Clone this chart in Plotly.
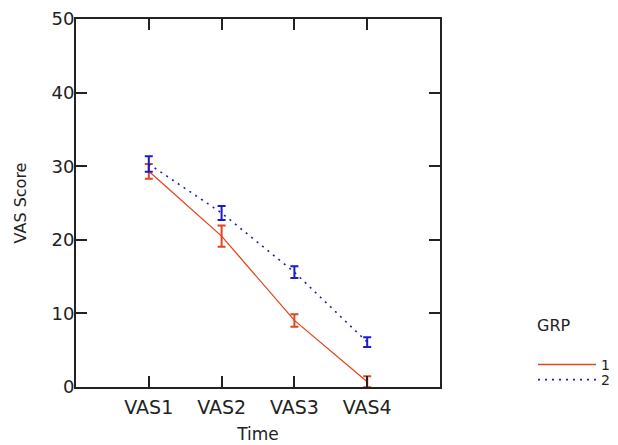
import plotly.graph_objects as go

categories = ["VAS1", "VAS2", "VAS3", "VAS4"]
x_pos = [1, 2, 3, 4]
grp1_mean = [29.3, 20.5, 9.05, 0.7]
grp1_err = [1.0, 1.45, 0.85, 0.75]
grp2_mean = [30.3, 23.65, 15.6, 6.1]
grp2_err = [1.05, 0.95, 0.8, 0.65]
y_ticks = [0, 10, 20, 30, 40, 50]

RED = "#E2461C"
BLUE = "#1A1AD0"
FONT = "DejaVu Sans"
INK = "#222222"

fig = go.Figure()
fig.add_trace(go.Scatter(
    x=x_pos, y=grp1_mean, mode="lines", name="1", legend="legend",
    line=dict(color=RED, width=1.3),
    error_y=dict(type="data", array=grp1_err, color=RED, thickness=2, width=4),
))
fig.add_trace(go.Scatter(
    x=x_pos, y=grp2_mean, mode="lines", name="2", legend="legend2",
    line=dict(color=BLUE, width=1.6, dash="2px,5px"),
    error_y=dict(type="data", array=grp2_err, color=BLUE, thickness=2, width=4),
))

axis_common = dict(
    showline=True, linecolor=INK, linewidth=2, mirror="ticks",
    ticks="inside", ticklen=11, tickwidth=2, tickcolor=INK,
    showgrid=False, zeroline=False, automargin=False,
    ticklabeloverflow="allow",
)

legend_common = dict(
    font=dict(family=FONT, size=14, color=INK),
    xanchor="left", yanchor="middle",
    itemwidth=58, bgcolor="rgba(0,0,0,0)",
)

fig.update_layout(
    width=618, height=445,
    margin=dict(l=68, r=184, t=11, b=66),
    paper_bgcolor="white", plot_bgcolor="white",
    font=dict(family=FONT, size=17, color=INK),
    xaxis=dict(
        range=[0, 5], tickvals=x_pos, ticktext=categories,
        title=dict(text="Time", font=dict(family=FONT, size=17), standoff=11),
        ticklabelstandoff=2,
        tickfont=dict(family=FONT, size=19, color=INK),
        **axis_common,
    ),
    yaxis=dict(
        range=[0, 50], tickvals=y_ticks,
        title=dict(text="VAS Score", font=dict(family=FONT, size=16), standoff=21),
        ticklabelstandoff=-4,
        tickfont=dict(family=FONT, size=18, color=INK),
        **axis_common,
    ),
    legend=dict(x=1.2555, y=0.06, **legend_common),
    legend2=dict(x=1.2555, y=0.019, **legend_common),
    annotations=[dict(
        text="GRP", xref="paper", yref="paper", x=1.26, y=0.168,
        xanchor="left", yanchor="middle", showarrow=False,
        font=dict(family=FONT, size=16, color=INK),
    )],
    showlegend=True,
)

fig.write_html("out.html")
